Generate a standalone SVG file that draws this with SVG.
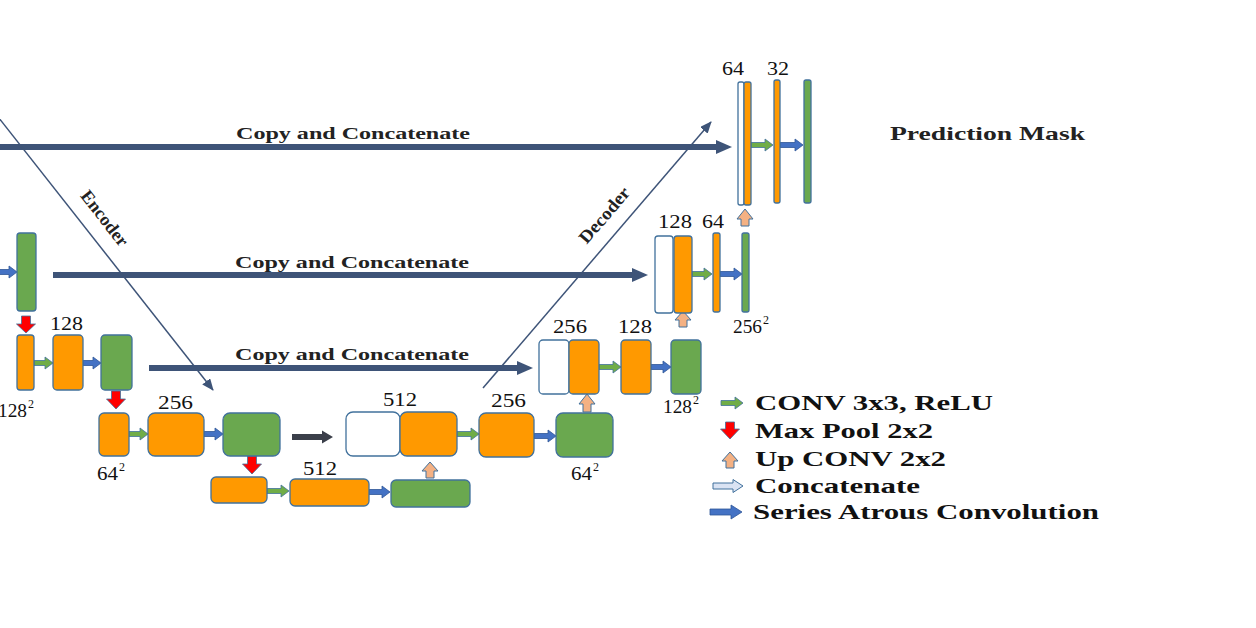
<svg xmlns="http://www.w3.org/2000/svg" width="1256" height="628" viewBox="0 0 1256 628">
<defs>
<style>
.o{fill:#FF9900;stroke:#41719C;stroke-width:1.3}
.g{fill:#6AA84F;stroke:#41719C;stroke-width:1.3}
.w{fill:#FFFFFF;stroke:#41719C;stroke-width:1.3}
.ga{fill:#70AD47;stroke:#41719C;stroke-width:0.8}
.ba{fill:#4472C4;stroke:#2F5597;stroke-width:0.8}
.ra{fill:#FF0000;stroke:#41719C;stroke-width:0.8}
.ua{fill:#F4B183;stroke:#41719C;stroke-width:1}
.ca{fill:#DAE3F3;stroke:#41719C;stroke-width:1}
.copy{stroke:#3E5478;stroke-width:6;fill:none}
.diag{stroke:#3E5478;stroke-width:1.5;fill:none}
.num{font-family:"Liberation Serif",serif;font-size:18px;fill:#111}
.sup{font-family:"Liberation Serif",serif;font-size:12px;fill:#111}
.bt{font-family:"Liberation Serif",serif;font-weight:bold;fill:#222}
.lg{font-family:"Liberation Serif",serif;font-weight:bold;font-size:22px;fill:#111}
</style>
<marker id="bighead" markerUnits="userSpaceOnUse" markerWidth="16" markerHeight="16" refX="6" refY="8" orient="auto">
<path d="M0,1 L16,8 L0,15 Z" fill="#3E5478"/>
</marker>
<marker id="thinhead" markerUnits="userSpaceOnUse" markerWidth="12" markerHeight="10" refX="11" refY="5" orient="auto">
<path d="M0,0 L12,5 L0,10 Z" fill="#3E5478"/>
</marker>
</defs>

<g id="connectors">
<path class="copy" d="M-5,147 H722" marker-end="url(#bighead)"/>
<path class="copy" d="M53,275 H638" marker-end="url(#bighead)"/>
<path class="copy" d="M149,368 H523" marker-end="url(#bighead)"/>
<path class="diag" d="M-5,113 L213,390" marker-end="url(#thinhead)"/>
<path class="diag" d="M483,388 L711,122" marker-end="url(#thinhead)"/>
<path class="ga" d="M34,360.5 H45 V357 L53,363 L45,369 V365.5 H34 Z"/>
<path class="ga" d="M129,431.5 H140 V428 L148,434 L140,440 V436.5 H129 Z"/>
<path class="ga" d="M267,488.5 H281 V485 L289,491 L281,497 V493.5 H267 Z"/>
<path class="ga" d="M457,431.5 H471 V428 L479,434 L471,440 V436.5 H457 Z"/>
<path class="ga" d="M599,364.5 H613 V361 L621,367 L613,373 V369.5 H599 Z"/>
<path class="ga" d="M692,271.5 H704 V268 L712,274 L704,280 V276.5 H692 Z"/>
<path class="ga" d="M751,142.5 H765 V139 L773,145 L765,151 V147.5 H751 Z"/>
<path class="ba" d="M-4,269.5 H9 V266 L17,272 L9,278 V274.5 H-4 Z"/>
<path class="ba" d="M83,360.5 H93 V357 L101,363 L93,369 V365.5 H83 Z"/>
<path class="ba" d="M204,431.5 H215 V428 L223,434 L215,440 V436.5 H204 Z"/>
<path class="ba" d="M369,489.5 H382 V486 L390,492 L382,498 V494.5 H369 Z"/>
<path class="ba" d="M534,433.5 H548 V430 L556,436 L548,442 V438.5 H534 Z"/>
<path class="ba" d="M651,364.5 H663 V361 L671,367 L663,373 V369.5 H651 Z"/>
<path class="ba" d="M720,271.5 H734 V268 L742,274 L734,280 V276.5 H720 Z"/>
<path class="ba" d="M780,142.5 H795 V139 L803,145 L795,151 V147.5 H780 Z"/>
<path class="ra" d="M21.5,316 H30.5 V324 H35.5 L26,333 L16.5,324 H21.5 Z"/>
<path class="ra" d="M111.5,391 H120.5 V399 H125.5 L116,409 L106.5,399 H111.5 Z"/>
<path class="ra" d="M247.5,456 H256.5 V464 H261.5 L252,474 L242.5,464 H247.5 Z"/>
<path class="ua" d="M426,478 V471 H422 L430,462 L438,471 H434 V478 Z"/>
<path class="ua" d="M583,412 V404 H579 L587,394 L595,404 H591 V412 Z"/>
<path class="ua" d="M679,327 V320 H675 L683,311 L691,320 H687 V327 Z"/>
<path class="ua" d="M741,226 V219 H737 L745,209 L753,219 H749 V226 Z"/>
<path d="M292,434 H322 V430.5 L333,437 L322,443.5 V440 H292 Z" fill="#3B3F4A"/>
</g>

<g id="copy-labels">
<text class="bt" x="236" y="139" font-size="17" textLength="234" lengthAdjust="spacingAndGlyphs">Copy and Concatenate</text>
<text class="bt" x="235" y="268" font-size="17" textLength="234" lengthAdjust="spacingAndGlyphs">Copy and Concatenate</text>
<text class="bt" x="235" y="360" font-size="17" textLength="234" lengthAdjust="spacingAndGlyphs">Copy and Concatenate</text>
<text class="bt" font-size="18" text-anchor="middle" transform="translate(100,222) rotate(52)" textLength="66" lengthAdjust="spacingAndGlyphs">Encoder</text>
<text class="bt" font-size="18" text-anchor="middle" transform="translate(609,219) rotate(-49.4)" textLength="68" lengthAdjust="spacingAndGlyphs">Decoder</text>
</g>

<g id="enc1">
<rect class="g" x="17" y="233" width="19" height="78" rx="3"/>
</g>
<g id="enc2">
<rect class="o" x="17" y="335" width="17" height="55" rx="3"/>
<rect class="o" x="53" y="335" width="30" height="55" rx="4"/>
<rect class="g" x="101" y="335" width="31" height="55" rx="4"/>
<text class="num" x="50" y="330" textLength="33" lengthAdjust="spacingAndGlyphs">128</text>
<text class="num" x="-2" y="417" textLength="29" lengthAdjust="spacingAndGlyphs">128</text>
<text class="sup" x="28" y="408">2</text>
</g>
<g id="enc3">
<rect class="o" x="99" y="413" width="30" height="43" rx="5"/>
<rect class="o" x="148" y="413" width="56" height="43" rx="7"/>
<rect class="g" x="223" y="413" width="57" height="43" rx="7"/>
<text class="num" x="158" y="409" textLength="35" lengthAdjust="spacingAndGlyphs">256</text>
<text class="num" x="97" y="480" textLength="21" lengthAdjust="spacingAndGlyphs">64</text>
<text class="sup" x="119" y="471">2</text>
</g>
<g id="bottleneck">
<rect class="o" x="211" y="477" width="56" height="26" rx="5"/>
<rect class="o" x="290" y="479" width="79" height="27" rx="5"/>
<rect class="g" x="391" y="480" width="79" height="27" rx="5"/>
<text class="num" x="303" y="475" textLength="34" lengthAdjust="spacingAndGlyphs">512</text>
</g>
<g id="dec3">
<rect class="w" x="346" y="412" width="54" height="44" rx="7"/>
<rect class="o" x="400" y="412" width="57" height="44" rx="7"/>
<rect class="o" x="479" y="413" width="55" height="44" rx="7"/>
<rect class="g" x="556" y="413" width="57" height="44" rx="7"/>
<text class="num" x="383" y="406" textLength="34" lengthAdjust="spacingAndGlyphs">512</text>
<text class="num" x="491" y="407" textLength="35" lengthAdjust="spacingAndGlyphs">256</text>
<text class="num" x="571" y="480" textLength="21" lengthAdjust="spacingAndGlyphs">64</text>
<text class="sup" x="593" y="471">2</text>
</g>
<g id="dec2">
<rect class="w" x="539" y="340" width="30" height="54" rx="4"/>
<rect class="o" x="569" y="340" width="30" height="54" rx="4"/>
<rect class="o" x="621" y="340" width="30" height="54" rx="4"/>
<rect class="g" x="671" y="340" width="30" height="54" rx="4"/>
<text class="num" x="553" y="333" textLength="34" lengthAdjust="spacingAndGlyphs">256</text>
<text class="num" x="618" y="333" textLength="34" lengthAdjust="spacingAndGlyphs">128</text>
<text class="num" x="663" y="413" textLength="29" lengthAdjust="spacingAndGlyphs">128</text>
<text class="sup" x="693" y="404">2</text>
</g>
<g id="dec1">
<rect class="w" x="655" y="236" width="18" height="77" rx="3"/>
<rect class="o" x="674" y="236" width="18" height="77" rx="3"/>
<rect class="o" x="713" y="233" width="7" height="79" rx="2"/>
<rect class="g" x="742" y="233" width="7" height="79" rx="2"/>
<text class="num" x="658" y="228" textLength="34" lengthAdjust="spacingAndGlyphs">128</text>
<text class="num" x="702" y="228" textLength="22" lengthAdjust="spacingAndGlyphs">64</text>
<text class="num" x="733" y="333" textLength="29" lengthAdjust="spacingAndGlyphs">256</text>
<text class="sup" x="763" y="324">2</text>
</g>
<g id="dec0">
<rect class="w" x="738" y="82" width="6" height="123" rx="2"/>
<rect class="o" x="744" y="82" width="7" height="123" rx="2"/>
<rect class="o" x="774" y="80" width="6" height="123" rx="2"/>
<rect class="g" x="804" y="80" width="7" height="123" rx="2"/>
<text class="num" x="722" y="75" textLength="22" lengthAdjust="spacingAndGlyphs">64</text>
<text class="num" x="767" y="75" textLength="22" lengthAdjust="spacingAndGlyphs">32</text>
</g>
<g id="prediction-mask">
<text class="bt" x="890" y="140" font-size="19" textLength="195" lengthAdjust="spacingAndGlyphs" fill="#111">Prediction Mask</text>
</g>

<g id="legend">
<path class="ga" d="M721,400.5 H735 V397 L743,403 L735,409 V405.5 H721 Z"/>
<path class="ra" d="M725.5,422 H734.5 V429 H739.5 L730,439 L720.5,429 H725.5 Z"/>
<path class="ua" d="M726,468 V461 H722 L730,452 L738,461 H734 V468 Z"/>
<path class="ca" d="M713,483 H733 V479.5 L743,486 L733,492.5 V489 H713 Z"/>
<path class="ba" d="M710,509 H731 V505 L742,512 L731,519 V515 H710 Z"/>
<text class="lg" x="755" y="410" textLength="238" lengthAdjust="spacingAndGlyphs">CONV 3x3, ReLU</text>
<text class="lg" x="755" y="438" textLength="178" lengthAdjust="spacingAndGlyphs">Max Pool 2x2</text>
<text class="lg" x="755" y="466" textLength="191" lengthAdjust="spacingAndGlyphs">Up CONV 2x2</text>
<text class="lg" x="755" y="493" textLength="165" lengthAdjust="spacingAndGlyphs">Concatenate</text>
<text class="lg" x="753" y="519" textLength="346" lengthAdjust="spacingAndGlyphs">Series Atrous Convolution</text>
</g>
</svg>
